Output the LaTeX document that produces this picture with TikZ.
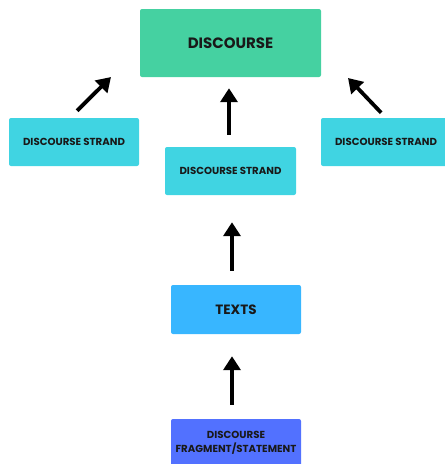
\documentclass[tikz,border=0pt]{standalone}
\usepackage{fontspec}
\setmainfont{Poppins}
\usepackage{xcolor}
\usetikzlibrary{arrows.meta,positioning}
\definecolor{discgreen}{HTML}{45D1A1}
\definecolor{strandcyan}{HTML}{40D4E2}
\definecolor{textblue}{HTML}{38B6FF}
\definecolor{fragblue}{HTML}{5271FF}
\tikzset{
  box/.style={rounded corners=2pt,inner sep=0pt,align=center,text=black!90,font=\bfseries\fontsize{10.2}{12}\selectfont,minimum width=130pt,minimum height=48pt},
  arr/.style={line width=3.8pt,-{Triangle[width=17pt,length=14pt]}}
}

\begin{document}
\begin{tikzpicture}[x=1pt,y=-1pt]
\useasboundingbox (0,0) rectangle (445,464);
\node[box,fill=discgreen,minimum width=181pt,minimum height=68pt,font=\bfseries\fontsize{15}{18}\selectfont] (disc) at (230.5,43) {DISCOURSE};
\node[box,fill=strandcyan] (strandl) at (74,142) {DISCOURSE STRAND};
\node[box,fill=strandcyan,minimum width=131pt] (strandm) at (230.5,171) {DISCOURSE STRAND};
\node[box,fill=strandcyan] (strandr) at (386,142) {DISCOURSE STRAND};
\node[box,fill=textblue,minimum height=49pt,font=\bfseries\fontsize{13.5}{16}\selectfont] (texts) at (236,309.5) {TEXTS};
\node[box,fill=fragblue,font=\bfseries\fontsize{10.2}{13.5}\selectfont] (frag) at (236,443) {DISCOURSE\\FRAGMENT/STATEMENT};
\coordinate (ltip) at (111,77);
\coordinate (rtip) at (348,78);
\draw[arr,shorten <=12pt,shorten >=11pt] ([xshift=-1.5pt]strandm.north) -- ([xshift=-1.5pt]disc.south);
\draw[arr,shorten <=14pt,shorten >=27pt] ([xshift=-4pt]texts.north) -- ([xshift=1.5pt]strandm.south);
\draw[arr,shorten <=14pt,shorten >=22pt] ([xshift=-4pt]frag.north) -- ([xshift=-4pt]texts.south);
\draw[arr,shorten <=10pt] ([xshift=-4pt]strandl.north) -- (ltip);
\draw[arr,shorten <=7pt] (strandr.north) -- (rtip);
\end{tikzpicture}
\end{document}
